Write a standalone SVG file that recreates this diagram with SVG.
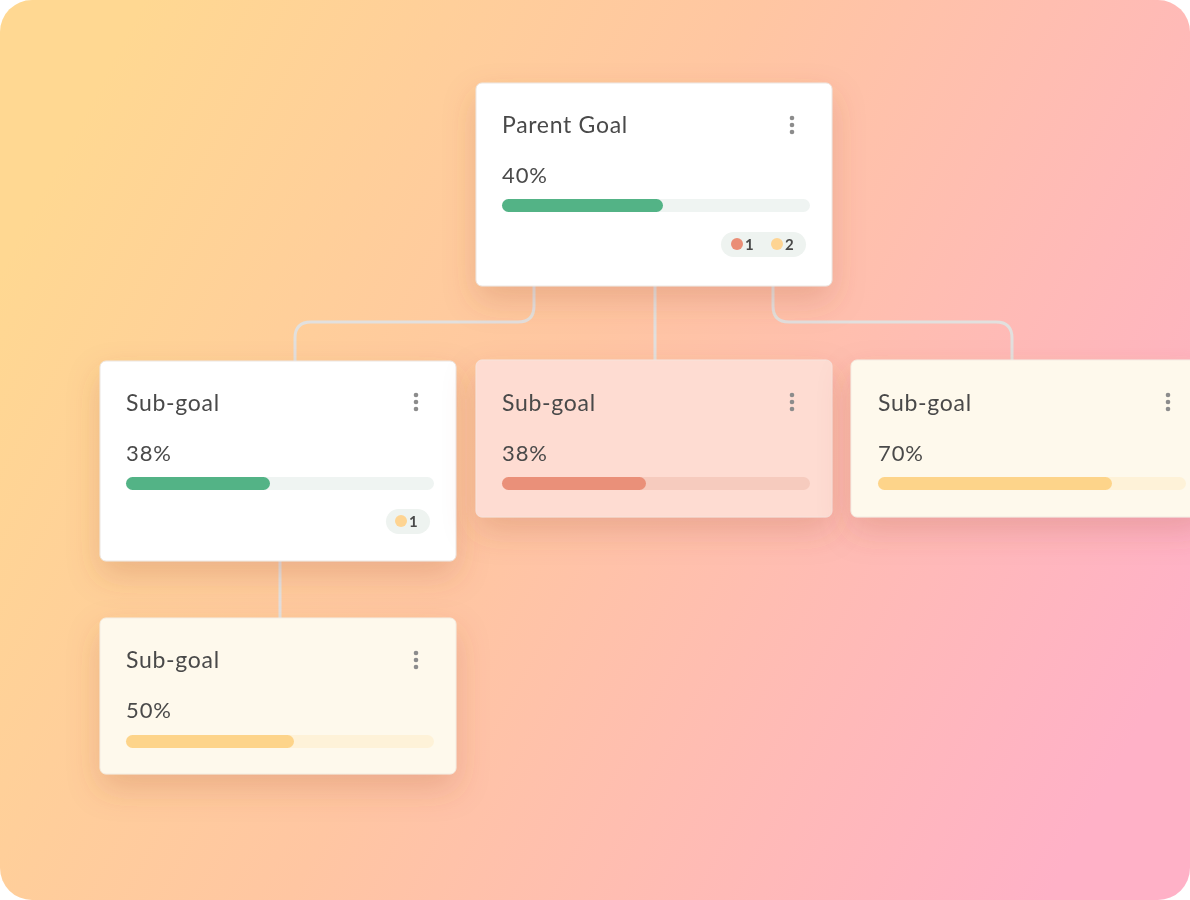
<svg xmlns="http://www.w3.org/2000/svg" width="1190" height="900" viewBox="0 0 1190 900">
  <defs>
    <linearGradient id="bg" x1="0" y1="0.3" x2="1" y2="0.7">
      <stop offset="0" stop-color="#FFD892"/>
      <stop offset="0.45" stop-color="#FFC6A2"/>
      <stop offset="1" stop-color="#FFB1C7"/>
    </linearGradient>
    <filter id="shadow" x="-30%" y="-30%" width="160%" height="180%">
      <feDropShadow dx="0" dy="14" stdDeviation="16" flood-color="#A5503A" flood-opacity="0.22"/>
    </filter>
    <clipPath id="frame">
      <rect x="0" y="0" width="1190" height="900" rx="32"/>
    </clipPath>
  </defs>
  <style>
    .title { font-family: Lato, "Open Sans", sans-serif; font-size: 23px; letter-spacing: 0.7px; fill: #4A4A4A; }
    .pct { font-family: Lato, "Open Sans", sans-serif; font-size: 22px; letter-spacing: 0.9px; fill: #4A4A4A; }
    .badge-txt { font-family: Lato, "Open Sans", sans-serif; font-size: 15px; font-weight: 700; fill: #4A4A4A; }
    .dots { fill: #8C8C8C; }
    .conn { fill: none; stroke: #E2E0DE; stroke-width: 3; }
    .card-white { fill: #FFFFFF; stroke: #ECE6E2; stroke-width: 1; }
    .card-red { fill: #FEDCD2; stroke: #F6E3DC; stroke-width: 1; }
    .card-yellow { fill: #FEF9EC; stroke: #F3EDE3; stroke-width: 1; }
    .badge { fill: #EEF3F0; }
  </style>
  <rect x="0" y="0" width="1190" height="900" fill="#FFFFFF"/>
  <g clip-path="url(#frame)">
    <rect x="0" y="0" width="1190" height="900" fill="url(#bg)"/>

    <g id="connectors">
      <path class="conn" d="M534 286 V306 Q534 322 518 322 H311 Q295 322 295 338 V361"/>
      <path class="conn" d="M655 286 V360"/>
      <path class="conn" d="M773 286 V306 Q773 322 789 322 H996 Q1012 322 1012 338 V360"/>
      <path class="conn" d="M280 561 V618"/>
    </g>

    <g id="parent-goal" filter="url(#shadow)">
      <rect class="card-white" x="476" y="83" width="356" height="203" rx="6"/>
      <text class="title" x="502" y="133">Parent Goal</text>
      <circle class="dots" cx="792" cy="118" r="2.3"/>
      <circle class="dots" cx="792" cy="125" r="2.3"/>
      <circle class="dots" cx="792" cy="132" r="2.3"/>
      <text class="pct" x="502" y="183">40%</text>
      <rect x="502" y="199" width="308" height="13" rx="6.5" fill="#EFF4F2"/>
      <rect x="502" y="199" width="161" height="13" rx="6.5" fill="#52B386"/>
      <rect class="badge" x="721" y="232" width="85" height="25" rx="12.5"/>
      <circle cx="737" cy="244" r="6" fill="#EA8E76"/>
      <text class="badge-txt" x="745" y="249.5">1</text>
      <circle cx="777" cy="244" r="6" fill="#FED492"/>
      <text class="badge-txt" x="785" y="249.5">2</text>
    </g>

    <g id="sub-goal-left" filter="url(#shadow)">
      <rect class="card-white" x="100" y="361" width="356" height="200" rx="6"/>
      <text class="title" x="126" y="411">Sub-goal</text>
      <circle class="dots" cx="416" cy="395" r="2.3"/>
      <circle class="dots" cx="416" cy="402" r="2.3"/>
      <circle class="dots" cx="416" cy="409" r="2.3"/>
      <text class="pct" x="126" y="461">38%</text>
      <rect x="126" y="477" width="308" height="13" rx="6.5" fill="#EFF4F2"/>
      <rect x="126" y="477" width="144" height="13" rx="6.5" fill="#52B386"/>
      <rect class="badge" x="386" y="509" width="44" height="25" rx="12.5"/>
      <circle cx="401" cy="521" r="6" fill="#FED492"/>
      <text class="badge-txt" x="409" y="526.5">1</text>
    </g>

    <g id="sub-goal-middle" filter="url(#shadow)">
      <rect class="card-red" x="476" y="360" width="356" height="157" rx="6"/>
      <text class="title" x="502" y="411">Sub-goal</text>
      <circle class="dots" cx="792" cy="395" r="2.3"/>
      <circle class="dots" cx="792" cy="402" r="2.3"/>
      <circle class="dots" cx="792" cy="409" r="2.3"/>
      <text class="pct" x="502" y="461">38%</text>
      <rect x="502" y="477" width="308" height="13" rx="6.5" fill="#F6CBBE"/>
      <rect x="502" y="477" width="144" height="13" rx="6.5" fill="#EA9079"/>
    </g>

    <g id="sub-goal-right" filter="url(#shadow)">
      <rect class="card-yellow" x="851" y="360" width="356" height="157" rx="6"/>
      <text class="title" x="878" y="411">Sub-goal</text>
      <circle class="dots" cx="1168" cy="395" r="2.3"/>
      <circle class="dots" cx="1168" cy="402" r="2.3"/>
      <circle class="dots" cx="1168" cy="409" r="2.3"/>
      <text class="pct" x="878" y="461">70%</text>
      <rect x="878" y="477" width="308" height="13" rx="6.5" fill="#FEF2D8"/>
      <rect x="878" y="477" width="234" height="13" rx="6.5" fill="#FDD48A"/>
    </g>

    <g id="sub-goal-bottom" filter="url(#shadow)">
      <rect class="card-yellow" x="100" y="618" width="356" height="156" rx="6"/>
      <text class="title" x="126" y="668">Sub-goal</text>
      <circle class="dots" cx="416" cy="653" r="2.3"/>
      <circle class="dots" cx="416" cy="660" r="2.3"/>
      <circle class="dots" cx="416" cy="667" r="2.3"/>
      <text class="pct" x="126" y="718">50%</text>
      <rect x="126" y="735" width="308" height="13" rx="6.5" fill="#FEF2D8"/>
      <rect x="126" y="735" width="168" height="13" rx="6.5" fill="#FDD48A"/>
    </g>
  </g>
</svg>
